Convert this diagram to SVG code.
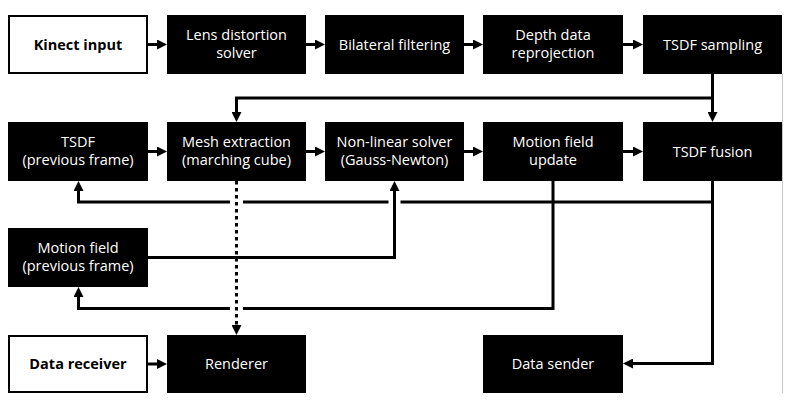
<svg xmlns="http://www.w3.org/2000/svg" width="792" height="401" viewBox="0 0 792 401">
<style>
.b{fill:#000}
.w{fill:#fff;stroke:#000;stroke-width:2}
.t{font-family:"Open Sans","Noto Sans",sans-serif;font-size:14.5px;fill:#fff;text-anchor:middle}
.tb{font-family:"Open Sans","Noto Sans",sans-serif;font-size:14.5px;font-weight:bold;fill:#000;text-anchor:middle}
.c{fill:none;stroke:#000;stroke-width:3}
.d{fill:none;stroke:#000;stroke-width:3;stroke-dasharray:3.5 3.5}
</style>
<defs>
<marker id="a" markerUnits="userSpaceOnUse" markerWidth="10" markerHeight="10" viewBox="0 0 10 10" refX="5" refY="5" orient="auto"><path d="M0,0 L10,5 L0,10 z" fill="#000"/></marker>
</defs>
<line x1="782.5" y1="74" x2="782.5" y2="393" stroke="#c8c8c8" stroke-width="1"/>
<g id="connectors">
<path class="c" d="M148 44.5 H162" marker-end="url(#a)"/>
<path class="c" d="M306 44.5 H320" marker-end="url(#a)"/>
<path class="c" d="M464 44.5 H478" marker-end="url(#a)"/>
<path class="c" d="M623 44.5 H638" marker-end="url(#a)"/>
<path class="c" d="M712.5 74 V117" marker-end="url(#a)"/>
<path class="c" d="M712.5 98 H236.5 V117" marker-end="url(#a)"/>
<path class="c" d="M148 151.5 H162" marker-end="url(#a)"/>
<path class="c" d="M306 151.5 H320" marker-end="url(#a)"/>
<path class="c" d="M464 151.5 H478" marker-end="url(#a)"/>
<path class="c" d="M623 151.5 H638" marker-end="url(#a)"/>
<path class="c" d="M712.5 181 V363.5 H628" marker-end="url(#a)"/>
<path class="c" d="M712.5 202 H400.5"/>
<path class="c" d="M388.5 202 H243"/>
<path class="c" d="M230 202 H78.5 V186" marker-end="url(#a)"/>
<path class="c" d="M148 257.5 H394.5 V186" marker-end="url(#a)"/>
<path class="c" d="M553 181 V308.5 H243"/>
<path class="c" d="M230 308.5 H78.5 V292" marker-end="url(#a)"/>
<path class="d" d="M236.5 181 V330" marker-end="url(#a)"/>
<path class="c" d="M148 364 H162" marker-end="url(#a)"/>
</g>
<g id="kinect-input"><rect class="w" x="9" y="16" width="138" height="57"/><text class="tb" x="78" y="49.5">Kinect input</text></g>
<g id="lens-distortion"><rect class="b" x="167" y="15" width="139" height="59"/><text class="t" x="236.5" y="40">Lens distortion</text><text class="t" x="236.5" y="58">solver</text></g>
<g id="bilateral"><rect class="b" x="325" y="15" width="139" height="59"/><text class="t" x="394.5" y="49.5">Bilateral filtering</text></g>
<g id="depth-reprojection"><rect class="b" x="483" y="15" width="140" height="59"/><text class="t" x="553" y="40">Depth data</text><text class="t" x="553" y="58">reprojection</text></g>
<g id="tsdf-sampling"><rect class="b" x="643" y="15" width="139" height="59"/><text class="t" x="712.5" y="49.5">TSDF sampling</text></g>
<g id="tsdf-prev"><rect class="b" x="8" y="122" width="140" height="59"/><text class="t" x="78" y="147">TSDF</text><text class="t" x="78" y="165">(previous frame)</text></g>
<g id="mesh-extraction"><rect class="b" x="167" y="122" width="139" height="59"/><text class="t" x="236.5" y="147">Mesh extraction</text><text class="t" x="236.5" y="165">(marching cube)</text></g>
<g id="nonlinear-solver"><rect class="b" x="325" y="122" width="139" height="59"/><text class="t" x="394.5" y="147">Non-linear solver</text><text class="t" x="394.5" y="165">(Gauss-Newton)</text></g>
<g id="motion-update"><rect class="b" x="483" y="122" width="140" height="59"/><text class="t" x="553" y="147">Motion field</text><text class="t" x="553" y="165">update</text></g>
<g id="tsdf-fusion"><rect class="b" x="643" y="122" width="139" height="59"/><text class="t" x="712.5" y="156.5">TSDF fusion</text></g>
<g id="motion-prev"><rect class="b" x="8" y="228" width="140" height="59"/><text class="t" x="78" y="253">Motion field</text><text class="t" x="78" y="271">(previous frame)</text></g>
<g id="data-receiver"><rect class="w" x="9" y="336" width="138" height="56"/><text class="tb" x="78" y="369">Data receiver</text></g>
<g id="renderer"><rect class="b" x="167" y="335" width="139" height="58"/><text class="t" x="236.5" y="369">Renderer</text></g>
<g id="data-sender"><rect class="b" x="483" y="335" width="140" height="58"/><text class="t" x="553" y="369">Data sender</text></g>
</svg>
